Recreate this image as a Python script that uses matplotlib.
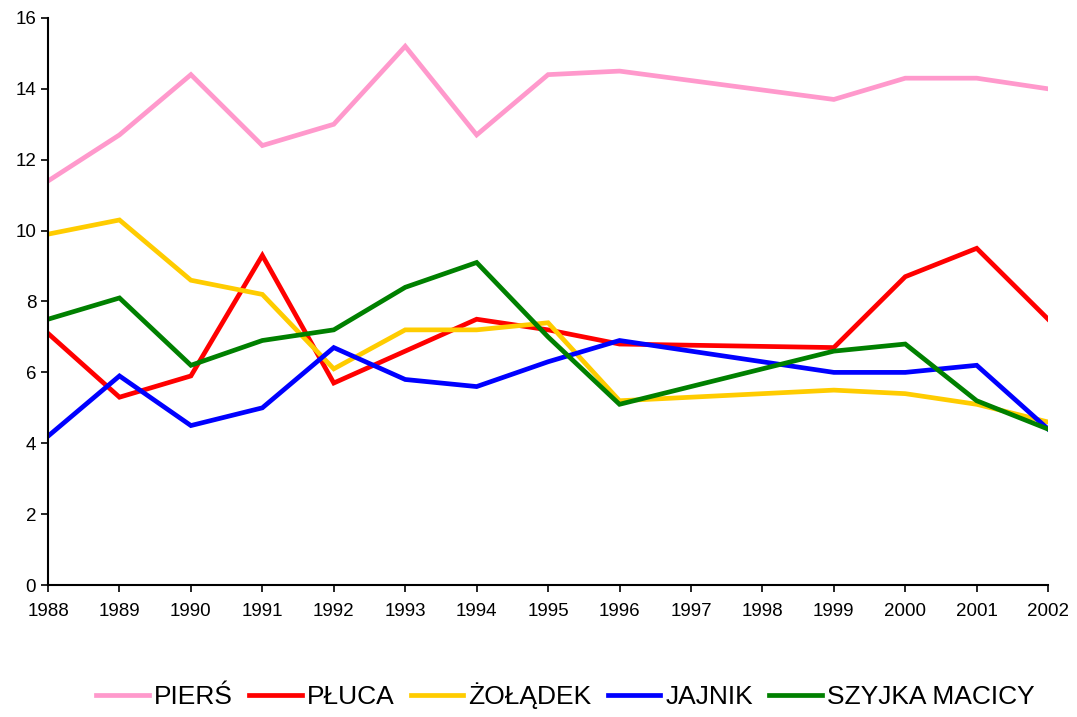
import matplotlib.pyplot as plt

# Lata z danymi (brak pomiarów dla 1997 i 1998)
years = [1988, 1989, 1990, 1991, 1992, 1993, 1994, 1995, 1996,
         1999, 2000, 2001, 2002]
tick_years = list(range(1988, 2003))

piers = [11.4, 12.7, 14.4, 12.4, 13.0, 15.2, 12.7, 14.4, 14.5,
         13.7, 14.3, 14.3, 14.0]
pluca = [7.1, 5.3, 5.9, 9.3, 5.7, 6.6, 7.5, 7.2, 6.8,
         6.7, 8.7, 9.5, 7.5]
zoladek = [9.9, 10.3, 8.6, 8.2, 6.1, 7.2, 7.2, 7.4, 5.2,
           5.5, 5.4, 5.1, 4.6]
jajnik = [4.2, 5.9, 4.5, 5.0, 6.7, 5.8, 5.6, 6.3, 6.9,
          6.0, 6.0, 6.2, 4.4]
szyjka = [7.5, 8.1, 6.2, 6.9, 7.2, 8.4, 9.1, 7.0, 5.1,
          6.6, 6.8, 5.2, 4.4]

series = [
    ("PIERŚ", piers, "#FF99CC"),
    ("PŁUCA", pluca, "#FF0000"),
    ("ŻOŁĄDEK", zoladek, "#FFCC00"),
    ("JAJNIK", jajnik, "#0000FF"),
    ("SZYJKA MACICY", szyjka, "#008000"),
]

plt.rcParams["font.family"] = ["Liberation Sans", "DejaVu Sans"]

fig = plt.figure(figsize=(10.77, 7.17), dpi=100)
ax = fig.add_axes([0.0446, 0.184, 0.9286, 0.791])

for label, values, color in series:
    ax.plot(years, values, color=color, linewidth=3.4, label=label,
            solid_joinstyle="miter")

ax.set_xlim(1988, 2002)
ax.set_ylim(0, 16)
ax.set_xticks(tick_years)
ax.set_yticks(range(0, 17, 2))

for side in ["top", "right"]:
    ax.spines[side].set_visible(False)
for side in ["left", "bottom"]:
    ax.spines[side].set_linewidth(1.5)

ax.tick_params(axis="both", direction="out", length=5, width=1.2,
               labelsize=13.5)
ax.tick_params(axis="x", pad=8)

fig.legend(
    loc="lower center",
    bbox_to_anchor=(0.525, -0.022),
    ncol=5,
    frameon=False,
    fontsize=19,
    handlelength=2.0,
    handletextpad=0.2,
    columnspacing=0.6,
)

fig.savefig("out.png", dpi=100)
